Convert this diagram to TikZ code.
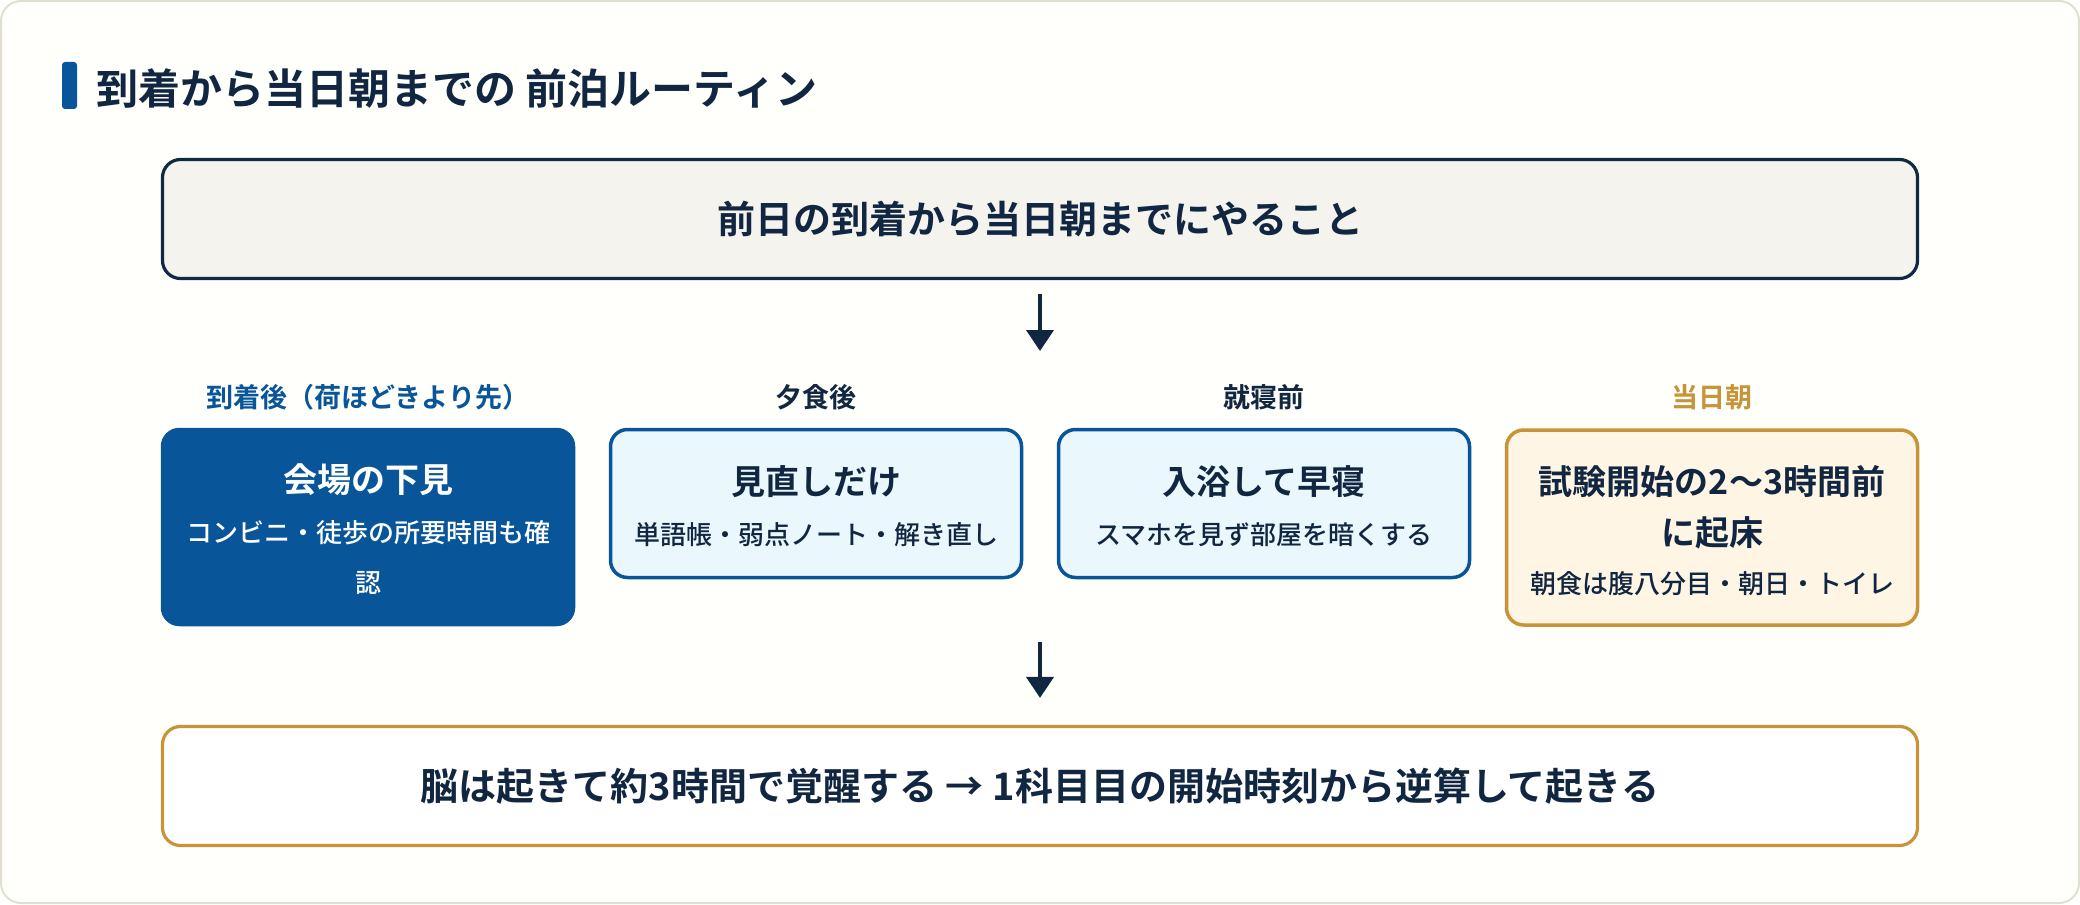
\documentclass[tikz,border=0pt]{standalone}
\usepackage{fontspec}
\setmainfont{Noto Sans CJK JP}[BoldFont={Noto Sans CJK JP Bold}]
\newfontfamily\medfont{Noto Sans CJK JP Medium}
\usetikzlibrary{arrows.meta,positioning}
\definecolor{ink}{RGB}{17,38,64}
\definecolor{navy}{RGB}{16,42,67}
\definecolor{ocean}{RGB}{8,85,153}
\definecolor{sky}{RGB}{234,247,253}
\definecolor{amber}{RGB}{200,148,58}
\definecolor{cream}{RGB}{254,245,228}
\definecolor{sand}{RGB}{244,243,238}
\definecolor{rim}{RGB}{226,223,210}
\definecolor{paper}{RGB}{255,255,252}
\tikzset{
  >={Triangle[width=13.5pt,length=10.5pt]},
  flow/.style={->,line width=2pt,draw=ink},
  banner/.style={draw=#1,line width=1.6pt,rounded corners=9pt,minimum width=877.5pt,
    minimum height=59.5pt,font=\fontsize{19}{23}\selectfont\bfseries,text=ink},
  card/.style={draw=#1,line width=1.75pt,rounded corners=8.5pt,minimum width=205.5pt,inner sep=0pt},
  phase/.style={font=\fontsize{13.5}{16}\selectfont\bfseries,text=#1},
  ttl/.style={font=\fontsize{17}{25.5}\selectfont\bfseries,text=#1,align=center},
  sub/.style={font=\fontsize{13}{25}\selectfont\medfont,text=#1,align=center},
}

\begin{document}
\begin{tikzpicture}[x=0.5pt,y=-0.5pt]
  \useasboundingbox (0,0) rectangle (2080,904);
  \draw[draw=rim,fill=paper,line width=1pt,rounded corners=10pt] (1,1) rectangle (2079,903);
  % heading
  \fill[ocean,rounded corners=1.5pt] (62,62) rectangle (77,109);
  \node[anchor=west,inner sep=0pt,font=\fontsize{21}{25}\selectfont\bfseries,text=ink] (head) at (96,88) {到着から当日朝までの 前泊ルーティン};

  \node[banner=navy,fill=sand] (top) at (1040,219) {前日の到着から当日朝までにやること};

  % phases
  \foreach \t/\c [count=\i from 0] in {到着後（荷ほどきより先）/ocean,夕食後/ink,就寝前/ink,当日朝/amber}{
    \node[phase=\c] (p\i) at (368+\i*448,397) {\t};
  }
  \node[card=ocean,fill=ocean,minimum height=97.5pt] (b0) at (368,527) {};
  \node[card=ocean,fill=sky,minimum height=74pt] (b1) at (816,503.5) {};
  \node[card=ocean,fill=sky,minimum height=74pt] (b2) at (1264,503.5) {};
  \node[card=amber,fill=cream,minimum height=97.5pt] (b3) at (1712,527.5) {};

  \node[ttl=white] (h0) at (368,480) {会場の下見};
  \node[sub=white] (s0) at (368,558) {コンビニ・徒歩の所要時間も確\\認};
  \node[ttl=ink] (h1) at (816,482) {見直しだけ};
  \node[sub=ink] (s1) at (816,535) {単語帳・弱点ノート・解き直し};
  \node[ttl=ink] (h2) at (1264,482) {入浴して早寝};
  \node[sub=ink] (s2) at (1264,535) {スマホを見ず部屋を暗くする};
  \node[ttl=ink] (h3) at (1712,507.5) {試験開始の2〜3時間前\\に起床};
  \node[sub=ink] (s3) at (1712,584) {朝食は腹八分目・朝日・トイレ};

  \node[banner=amber,fill=white] (foot) at (1040,786) {脳は起きて約3時間で覚醒する → 1科目目の開始時刻から逆算して起きる};

  \coordinate (a1) at (1040,351);
  \coordinate (a2) at (1040,642);
  \draw[flow,shorten <=7pt] (top) -- (a1);
  \draw[flow,shorten >=13.5pt] (a2) -- (foot);
\end{tikzpicture}
\end{document}
